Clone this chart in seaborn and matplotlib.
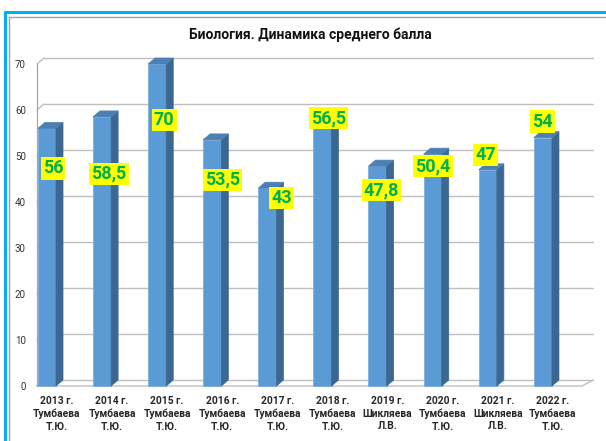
import numpy as np
import pandas as pd
import seaborn as sns
import matplotlib.pyplot as plt
from matplotlib.patches import Polygon
from matplotlib.lines import Line2D
from matplotlib.transforms import ScaledTranslation

years = ["2013 г.", "2014 г.", "2015 г.", "2016 г.", "2017 г.",
         "2018 г.", "2019 г.", "2020 г.", "2021 г.", "2022 г."]
teachers = ["Тумбаева\nТ.Ю.", "Тумбаева\nТ.Ю.", "Тумбаева\nТ.Ю.", "Тумбаева\nТ.Ю.",
            "Тумбаева\nТ.Ю.", "Тумбаева\nТ.Ю.", "Шикляева\nЛ.В.", "Тумбаева\nТ.Ю.",
            "Шикляева\nЛ.В.", "Тумбаева\nТ.Ю."]
scores = [56, 58.5, 70, 53.5, 43, 56.5, 47.8, 50.4, 47, 54]
score_text = ["56", "58,5", "70", "53,5", "43", "56,5", "47,8", "50,4", "47", "54"]

# where each data label sits, in pixels from the top-centre of its bar
label_shift = [(6, -40), (7, -57), (7, -56), (10, -40), (14, -10),
               (6, 8), (4, -24), (0, -12), (-2, 15), (0, 16)]

df = pd.DataFrame({"cat": [y + "\n" + t for y, t in zip(years, teachers)],
                   "score": scores})

sns.set_style("white")
plt.rcParams["font.family"] = ["Roboto", "DejaVu Sans"]

W, H = 606, 441
fig = plt.figure(figsize=(W / 100, H / 100), dpi=100)
ax = fig.add_axes([37 / W, (H - 386) / H, 545 / W, 322 / H])

front = "#5B9BD5"
side = "#3B6790"
top = "#4C80B4"

sns.barplot(data=df, x="cat", y="score", color=front, width=0.33,
            saturation=1, edgecolor="#7FAEDC", linewidth=0.6, ax=ax, zorder=3)

ax.set_xlim(-0.18, 9.71)
ax.set_ylim(0, 70)
ax.set_yticks(range(0, 71, 10))
ax.set_xlabel("")
ax.set_ylabel("")
for s in ["top", "right", "bottom"]:
    ax.spines[s].set_visible(False)
ax.spines["left"].set_color("#A6A6A6")
ax.spines["left"].set_linewidth(0.9)
ax.tick_params(axis="y", labelsize=7, length=0, pad=8, labelcolor="#333333")
ax.tick_params(axis="x", length=0, pad=7)
for lab in ax.get_xticklabels():
    lab.set_fontsize(7.4)
    lab.set_fontweight("bold")
    lab.set_linespacing(1.35)
    lab.set_transform(lab.get_transform() + ScaledTranslation(10 / 100, 0, fig.dpi_scale_trans))

# pixel -> data conversion
ux = (9.71 + 0.18) / 545
uy = 70 / 322
dxp, dyp = 7, 6
dx, dy = dxp * ux, dyp * uy

# back wall grid lines and left wall diagonals
x0, x1 = -0.18, 9.71
for v in range(0, 71, 10):
    ax.add_line(Line2D([x0 + dx, x1 + 11 * ux], [v + dy, v + dy], color="#BFBFBF",
                       lw=1.0, zorder=1, clip_on=False))
    ax.add_line(Line2D([x0, x0 + dx], [v, v + dy], color="#BFBFBF",
                       lw=1.0, zorder=1, clip_on=False))
# floor front edge and right diagonal
ax.add_line(Line2D([x0, x1, x1 + 11 * ux], [0, 0, dy], color="#BFBFBF",
                   lw=1.0, zorder=2, clip_on=False))

# 3D side and top faces of every bar
for p in list(ax.patches):
    p.set_clip_on(False)
    bx, bw, bh = p.get_x(), p.get_width(), p.get_height()
    xr = bx + bw
    ax.add_patch(Polygon([(xr, 0), (xr + dx, dy), (xr + dx, bh + dy), (xr, bh)],
                         closed=True, facecolor=side, edgecolor=side, lw=0.5,
                         zorder=3, clip_on=False))
    ax.add_patch(Polygon([(bx, bh), (bx + dx, bh + dy), (xr + dx, bh + dy), (xr, bh)],
                         closed=True, facecolor=top, edgecolor=top, lw=0.5,
                         zorder=3, clip_on=False))

# data labels
for i, (v, t) in enumerate(zip(scores, score_text)):
    sx, sy = label_shift[i]
    ax.annotate(t, xy=(i, v), xytext=(sx * 0.72, sy * 0.72), textcoords="offset points",
                ha="center", va="center", fontsize=13, fontweight="bold", color="#00B050",
                bbox=dict(boxstyle="square,pad=0.12", facecolor="#FFFF00", edgecolor="none"),
                zorder=6)

fig.text(310 / W, 1 - 35 / H, "Биология. Динамика среднего балла", ha="center",
         va="center", fontsize=10, fontweight="bold", color="#111111")

# chart frame
fig.add_artist(Line2D([5 / W, 5 / W], [0, 1 - 12 / H], color="#00B0F0", lw=2.2,
                      transform=fig.transFigure))
fig.add_artist(Line2D([5 / W, 1], [1 - 12 / H, 1 - 12 / H], color="#00B0F0", lw=2.2,
                      transform=fig.transFigure))
fig.add_artist(Line2D([9 / W, 9 / W], [0, 1 - 17 / H], color="#A0A0A0", lw=1.0,
                      transform=fig.transFigure))
fig.add_artist(Line2D([9 / W, 1], [1 - 17 / H, 1 - 17 / H], color="#A0A0A0", lw=1.0,
                      transform=fig.transFigure))

fig.savefig("out.png", dpi=100)
